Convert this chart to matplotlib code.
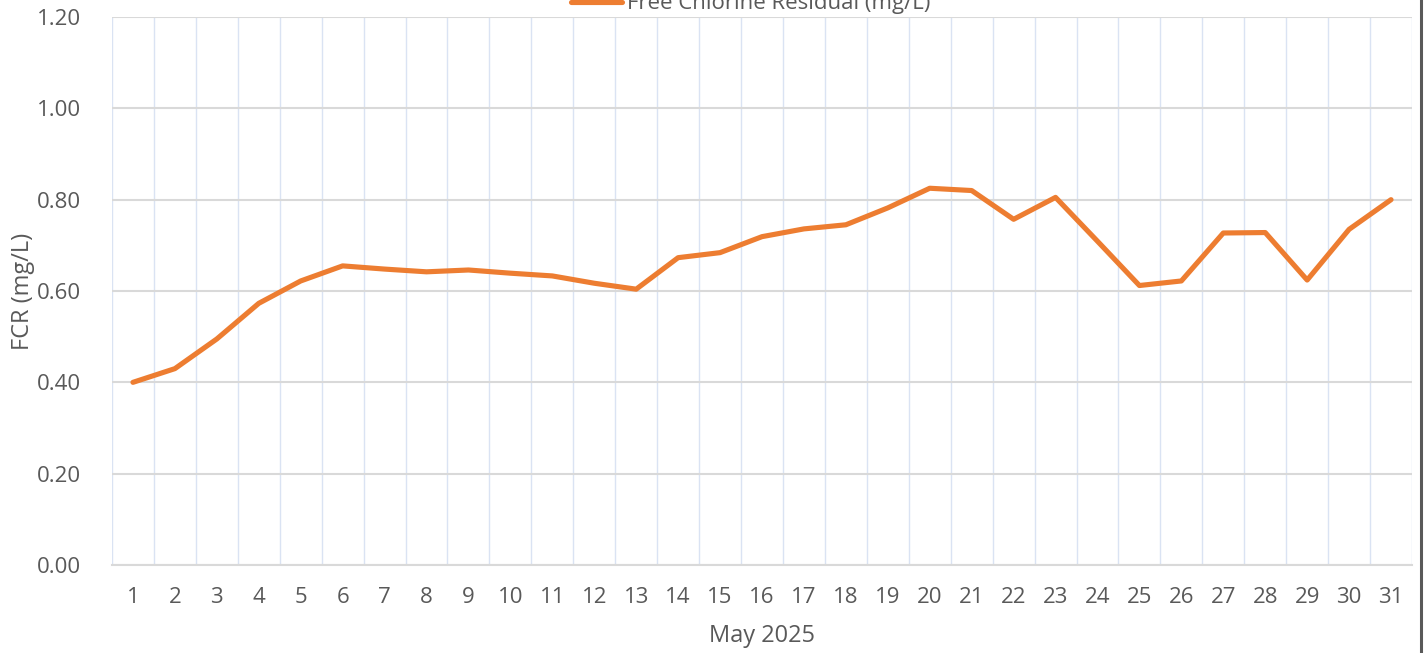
import matplotlib
matplotlib.use("Agg")
import matplotlib.pyplot as plt
from matplotlib.lines import Line2D
import numpy as np

days = list(range(1, 32))
fcr = [0.40, 0.43, 0.495, 0.573, 0.622, 0.655, 0.648, 0.642, 0.646, 0.639,
       0.633, 0.617, 0.604, 0.673, 0.684, 0.719, 0.736, 0.745, 0.782, 0.825,
       0.820, 0.757, 0.805, 0.709, 0.612, 0.622, 0.727, 0.728, 0.624, 0.735,
       0.800]
yticks = [0.0, 0.2, 0.4, 0.6, 0.8, 1.0, 1.2]
series_name = "Free Chlorine Residual (mg/L)"
x_title = "May 2025"
y_title = "FCR (mg/L)"

plt.rcParams['font.family'] = ['Open Sans', 'DejaVu Sans']
txt = '#595959'

fig = plt.figure(figsize=(14.24, 6.53), dpi=100)
ax = fig.add_axes([112/1424, 1-565/653, 1300/1424, 548/653])

x = np.arange(len(days))
ax.plot(x, fcr, color='#ED7D31', lw=3.7, solid_capstyle='round', solid_joinstyle='round', zorder=3)

ax.set_xlim(-0.5, len(days)-0.5)
ax.set_ylim(0, 1.2)
ax.set_yticks(yticks)
ax.set_yticklabels([f"{v:.2f}" for v in yticks])
ax.set_xticks(x)
ax.set_xticklabels([str(d) for d in days])
ax.set_xticks(np.arange(-0.5, len(days), 1), minor=True)
ax.grid(axis='y', which='major', color='#d9d9d9', lw=1.5, zorder=1)
ax.grid(axis='x', which='minor', color='#dae3f3', lw=1.0, zorder=0)
ax.tick_params(which='both', length=0)
ax.tick_params(axis='y', labelsize=16, colors=txt, pad=22)
ax.tick_params(axis='x', labelsize=16, colors=txt, pad=16)
for s in ['top', 'right', 'left']:
    ax.spines[s].set_visible(False)
ax.spines['bottom'].set_color('#d9d9d9')
ax.spines['bottom'].set_linewidth(1.5)

ax.set_xlabel(x_title, fontsize=17, color=txt, labelpad=11)
ax.set_ylabel(y_title, fontsize=17, color=txt, labelpad=2)

# legend (clipped at top, as in the reference)
fig.add_artist(Line2D([571/1424, 622/1424], [1-2/653, 1-2/653], color='#ED7D31', lw=3.7,
                      solid_capstyle='round', transform=fig.transFigure))
fig.text(627/1424, 1-9/653, series_name, fontsize=16, color=txt, ha='left', va='baseline')

# right border of chart area
fig.add_artist(Line2D([1421/1424, 1421/1424], [0, 1], color='#595959', lw=2.2, transform=fig.transFigure))

fig.savefig("out.png", dpi=100)
